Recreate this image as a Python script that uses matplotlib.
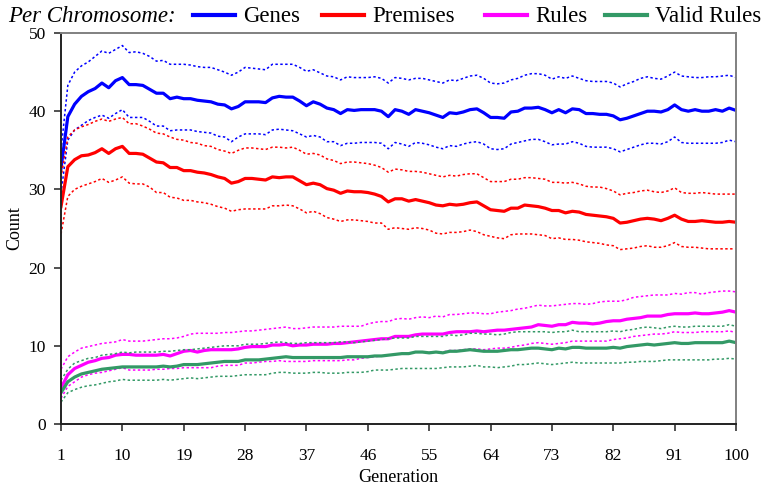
import numpy as np
import matplotlib.pyplot as plt
from matplotlib.lines import Line2D

plt.rcParams['font.family'] = ['Liberation Serif', 'DejaVu Serif']

generation = np.arange(1, 101)

# mean count per chromosome, with the +/- one std. dev. envelopes
genes_mean = [32.7, 39.3, 40.9, 41.9, 42.5, 42.9, 43.6, 43.0, 43.9, 44.3,
              43.4, 43.4, 43.3, 42.8, 42.3, 42.3, 41.6, 41.8, 41.6, 41.6,
              41.4, 41.3, 41.2, 40.9, 40.8, 40.3, 40.6, 41.2, 41.2, 41.2,
              41.1, 41.7, 41.9, 41.8, 41.8, 41.3, 40.7, 41.2, 40.9, 40.4,
              40.2, 39.7, 40.2, 40.1, 40.2, 40.2, 40.2, 40.0, 39.3, 40.2,
              40.0, 39.6, 40.2, 40.0, 39.8, 39.5, 39.2, 39.8, 39.7, 39.9,
              40.2, 40.3, 39.8, 39.2, 39.2, 39.1, 39.9, 40.0, 40.4, 40.4,
              40.5, 40.2, 39.8, 40.2, 39.8, 40.3, 40.2, 39.7, 39.7, 39.6,
              39.6, 39.4, 38.9, 39.1, 39.4, 39.7, 40.0, 40.0, 39.9, 40.2,
              40.8, 40.2, 40.0, 40.2, 40.0, 40.0, 40.2, 40.0, 40.4, 40.1]
genes_hi = [35.0, 43.3, 45.0, 45.8, 46.3, 47.0, 47.7, 47.4, 47.9, 48.4,
            47.5, 47.6, 47.4, 47.0, 46.4, 46.5, 46.0, 46.0, 46.0, 45.9,
            45.7, 45.6, 45.6, 45.3, 45.0, 44.6, 45.0, 45.6, 45.5, 45.4,
            45.3, 46.0, 46.0, 46.0, 46.0, 45.6, 45.1, 45.3, 44.9, 44.5,
            44.4, 44.0, 44.4, 44.3, 44.3, 44.3, 44.4, 44.2, 43.6, 44.3,
            44.2, 44.0, 44.2, 44.2, 44.0, 43.8, 43.6, 44.0, 43.9, 44.2,
            44.5, 44.6, 44.2, 43.6, 43.5, 43.6, 44.0, 44.2, 44.6, 44.8,
            44.8, 44.6, 44.1, 44.4, 44.2, 44.5, 44.2, 43.9, 43.8, 43.8,
            43.8, 43.6, 43.1, 43.5, 43.8, 44.2, 44.4, 44.2, 44.1, 44.5,
            45.0, 44.5, 44.4, 44.3, 44.3, 44.4, 44.4, 44.5, 44.6, 44.3]
genes_lo = [29.5, 36.3, 37.6, 38.2, 38.8, 39.2, 39.5, 39.1, 39.7, 40.2,
            39.2, 39.2, 39.2, 38.7, 38.1, 38.1, 37.5, 37.6, 37.6, 37.6,
            37.4, 37.3, 37.2, 36.8, 36.7, 36.1, 36.7, 37.1, 37.1, 37.1,
            37.0, 37.6, 37.7, 37.6, 37.5, 37.1, 36.7, 36.9, 36.7, 36.1,
            36.1, 35.6, 35.9, 35.9, 36.0, 36.0, 36.0, 35.9, 35.2, 36.0,
            35.8, 35.5, 36.0, 35.9, 35.7, 35.4, 35.2, 35.6, 35.5, 35.8,
            36.0, 36.1, 35.8, 35.2, 35.1, 35.2, 35.8, 36.0, 36.2, 36.4,
            36.4, 36.1, 35.7, 35.8, 35.8, 36.1, 35.9, 35.5, 35.4, 35.4,
            35.4, 35.2, 34.8, 35.1, 35.4, 35.7, 35.9, 35.9, 35.8, 36.1,
            36.7, 36.0, 35.9, 35.9, 35.9, 35.9, 35.9, 36.0, 36.3, 36.1]

premises_mean = [27.8, 32.9, 33.8, 34.3, 34.4, 34.7, 35.2, 34.6, 35.2, 35.5,
                 34.6, 34.6, 34.5, 34.0, 33.5, 33.4, 32.8, 32.8, 32.4, 32.4,
                 32.2, 32.1, 31.9, 31.6, 31.4, 30.8, 31.0, 31.4, 31.4, 31.3,
                 31.2, 31.6, 31.5, 31.6, 31.6, 31.1, 30.6, 30.8, 30.6, 30.1,
                 29.9, 29.5, 29.8, 29.7, 29.7, 29.6, 29.4, 29.1, 28.4, 28.8,
                 28.8, 28.5, 28.7, 28.5, 28.3, 28.0, 27.9, 28.1, 28.0, 28.1,
                 28.3, 28.4, 27.9, 27.4, 27.3, 27.2, 27.6, 27.6, 28.0, 27.9,
                 27.8, 27.6, 27.3, 27.3, 27.0, 27.2, 27.1, 26.8, 26.7, 26.6,
                 26.5, 26.3, 25.7, 25.8, 26.0, 26.2, 26.3, 26.2, 26.0, 26.3,
                 26.7, 26.2, 25.9, 25.9, 26.0, 25.9, 25.8, 25.8, 25.9, 25.8]
premises_hi = [31.5, 36.7, 37.6, 38.0, 38.3, 38.7, 39.0, 38.7, 39.0, 39.2,
               38.4, 38.4, 38.1, 37.7, 37.2, 37.1, 36.7, 36.4, 36.3, 36.0,
               35.9, 35.6, 35.5, 35.1, 34.9, 34.6, 35.0, 35.3, 35.3, 35.2,
               35.1, 35.4, 35.4, 35.3, 35.4, 35.0, 34.5, 34.6, 34.4, 33.9,
               33.7, 33.3, 33.5, 33.5, 33.4, 33.3, 33.1, 32.8, 32.2, 32.6,
               32.5, 32.3, 32.3, 32.2, 32.0, 31.8, 31.6, 31.8, 31.7, 31.9,
               32.0, 32.0, 31.5, 31.0, 31.0, 31.0, 31.3, 31.3, 31.5, 31.5,
               31.4, 31.3, 30.9, 30.9, 30.8, 30.9, 30.7, 30.4, 30.3, 30.3,
               30.1, 29.8, 29.3, 29.5, 29.6, 29.8, 29.9, 29.7, 29.6, 29.8,
               30.2, 29.6, 29.5, 29.5, 29.6, 29.5, 29.4, 29.4, 29.4, 29.4]
premises_lo = [24.3, 29.1, 30.0, 30.4, 30.7, 31.0, 31.4, 30.9, 31.2, 31.6,
               30.8, 30.7, 30.7, 30.3, 29.6, 29.6, 29.0, 28.9, 28.6, 28.6,
               28.4, 28.3, 28.1, 27.8, 27.6, 27.2, 27.4, 27.5, 27.5, 27.5,
               27.5, 27.9, 27.9, 28.0, 27.9, 27.5, 27.0, 27.2, 26.9, 26.4,
               26.2, 25.9, 26.1, 26.1, 26.0, 25.9, 25.7, 25.7, 24.9, 25.1,
               25.0, 24.9, 25.1, 25.0, 24.8, 24.4, 24.3, 24.5, 24.5, 24.6,
               24.8, 24.6, 24.2, 24.0, 23.8, 23.7, 24.2, 24.3, 24.3, 24.3,
               24.2, 24.1, 23.7, 23.8, 23.6, 23.6, 23.5, 23.3, 23.2, 23.1,
               22.9, 22.8, 22.3, 22.4, 22.5, 22.7, 22.8, 22.6, 22.6, 22.8,
               23.2, 22.7, 22.6, 22.6, 22.5, 22.4, 22.4, 22.4, 22.4, 22.4]

rules_mean = [4.6, 6.3, 7.1, 7.5, 7.9, 8.1, 8.4, 8.5, 8.8, 8.9,
              8.9, 8.8, 8.8, 8.8, 8.8, 8.9, 8.7, 9.0, 9.3, 9.4,
              9.2, 9.4, 9.5, 9.5, 9.5, 9.5, 9.6, 9.8, 9.9, 9.9,
              9.9, 10.1, 10.1, 10.2, 10.0, 10.1, 10.1, 10.2, 10.2, 10.2,
              10.3, 10.3, 10.4, 10.5, 10.6, 10.7, 10.8, 10.9, 10.9, 11.2,
              11.2, 11.2, 11.4, 11.5, 11.5, 11.5, 11.5, 11.7, 11.8, 11.8,
              11.8, 11.9, 11.8, 11.9, 12.0, 12.0, 12.1, 12.2, 12.3, 12.4,
              12.7, 12.6, 12.5, 12.7, 12.7, 13.0, 12.9, 12.9, 12.8, 12.9,
              13.1, 13.2, 13.2, 13.4, 13.5, 13.6, 13.8, 13.8, 13.8, 14.0,
              14.1, 14.1, 14.1, 14.2, 14.1, 14.1, 14.2, 14.3, 14.5, 14.3]
rules_hi = [7.0, 8.6, 9.2, 9.7, 9.9, 10.1, 10.3, 10.4, 10.5, 10.8,
            10.6, 10.6, 10.6, 10.7, 10.8, 10.9, 10.9, 11.0, 11.2, 11.5,
            11.6, 11.6, 11.6, 11.6, 11.7, 11.7, 11.8, 11.9, 11.9, 12.0,
            12.1, 12.2, 12.3, 12.4, 12.2, 12.2, 12.3, 12.4, 12.4, 12.4,
            12.4, 12.5, 12.5, 12.5, 12.5, 12.8, 13.0, 13.1, 13.1, 13.4,
            13.5, 13.4, 13.6, 13.7, 13.6, 13.8, 13.7, 14.0, 14.0, 14.1,
            14.2, 14.2, 14.1, 14.1, 14.3, 14.4, 14.5, 14.7, 14.8, 15.0,
            15.2, 15.1, 15.1, 15.2, 15.3, 15.4, 15.4, 15.3, 15.4, 15.6,
            15.7, 15.7, 15.7, 15.9, 16.2, 16.3, 16.4, 16.5, 16.5, 16.5,
            16.7, 16.6, 16.8, 16.8, 16.6, 16.8, 16.9, 17.0, 17.0, 16.9]
rules_lo = [3.3, 4.8, 5.4, 6.0, 6.3, 6.5, 6.6, 6.8, 7.0, 7.2,
            6.9, 6.9, 6.9, 6.9, 7.0, 7.0, 7.1, 7.1, 7.2, 7.2,
            7.2, 7.2, 7.2, 7.4, 7.5, 7.5, 7.5, 7.8, 7.8, 7.9,
            8.0, 8.0, 8.1, 8.0, 8.0, 8.0, 8.0, 8.1, 8.1, 8.1,
            8.1, 8.1, 8.2, 8.2, 8.4, 8.5, 8.6, 8.7, 8.8, 8.9,
            9.0, 9.0, 9.2, 9.2, 9.2, 9.2, 9.2, 9.4, 9.4, 9.5,
            9.6, 9.6, 9.5, 9.6, 9.7, 9.7, 9.8, 10.0, 10.1, 10.3,
            10.4, 10.3, 10.2, 10.3, 10.4, 10.6, 10.6, 10.6, 10.6, 10.6,
            10.6, 10.8, 10.9, 11.0, 11.2, 11.3, 11.4, 11.5, 11.5, 11.6,
            11.8, 11.7, 11.7, 11.7, 11.8, 11.8, 11.8, 11.8, 11.9, 11.7]

valid_mean = [4.0, 5.4, 6.0, 6.4, 6.6, 6.8, 7.0, 7.1, 7.2, 7.3,
              7.3, 7.3, 7.3, 7.3, 7.3, 7.4, 7.3, 7.4, 7.6, 7.6,
              7.6, 7.7, 7.8, 7.9, 8.0, 8.0, 8.0, 8.2, 8.2, 8.2,
              8.3, 8.4, 8.5, 8.6, 8.5, 8.5, 8.5, 8.5, 8.5, 8.5,
              8.5, 8.5, 8.6, 8.6, 8.6, 8.6, 8.7, 8.7, 8.8, 8.9,
              9.0, 9.0, 9.2, 9.2, 9.1, 9.2, 9.1, 9.3, 9.3, 9.4,
              9.5, 9.4, 9.3, 9.3, 9.3, 9.4, 9.5, 9.5, 9.6, 9.7,
              9.7, 9.6, 9.5, 9.7, 9.6, 9.8, 9.8, 9.7, 9.7, 9.7,
              9.7, 9.8, 9.7, 9.9, 10.0, 10.1, 10.2, 10.1, 10.2, 10.3,
              10.4, 10.3, 10.3, 10.4, 10.4, 10.4, 10.4, 10.4, 10.6, 10.4]
valid_hi = [5.6, 7.0, 7.8, 8.1, 8.4, 8.5, 8.8, 8.9, 9.0, 9.2,
            9.1, 9.2, 9.2, 9.2, 9.2, 9.3, 9.3, 9.4, 9.5, 9.5,
            9.6, 9.7, 9.8, 9.9, 10.0, 10.0, 10.0, 10.2, 10.2, 10.2,
            10.3, 10.4, 10.5, 10.4, 10.3, 10.3, 10.4, 10.4, 10.4, 10.4,
            10.4, 10.5, 10.5, 10.4, 10.5, 10.6, 10.7, 10.8, 10.9, 11.0,
            11.0, 11.0, 11.2, 11.2, 11.2, 11.2, 11.2, 11.4, 11.3, 11.4,
            11.6, 11.6, 11.5, 11.5, 11.4, 11.5, 11.7, 11.8, 11.8, 11.8,
            11.8, 11.8, 11.7, 11.8, 11.8, 12.0, 11.8, 11.8, 11.8, 11.8,
            11.8, 11.9, 11.8, 12.0, 12.1, 12.3, 12.4, 12.3, 12.2, 12.4,
            12.5, 12.4, 12.4, 12.5, 12.5, 12.5, 12.5, 12.5, 12.7, 12.5]
valid_lo = [2.8, 4.0, 4.4, 4.7, 4.9, 5.0, 5.2, 5.4, 5.5, 5.7,
            5.6, 5.6, 5.6, 5.6, 5.6, 5.7, 5.6, 5.7, 5.8, 5.9,
            5.8, 5.9, 6.0, 6.1, 6.1, 6.1, 6.2, 6.3, 6.3, 6.3,
            6.3, 6.5, 6.6, 6.6, 6.5, 6.5, 6.5, 6.6, 6.6, 6.5,
            6.5, 6.5, 6.6, 6.6, 6.6, 6.7, 6.9, 6.9, 6.9, 7.0,
            7.1, 7.1, 7.1, 7.1, 7.1, 7.1, 7.2, 7.3, 7.3, 7.3,
            7.4, 7.5, 7.3, 7.3, 7.2, 7.3, 7.4, 7.6, 7.6, 7.7,
            7.8, 7.7, 7.6, 7.7, 7.8, 7.9, 7.8, 7.8, 7.8, 7.8,
            7.8, 7.8, 7.8, 7.9, 7.9, 8.0, 8.0, 8.0, 8.1, 8.2,
            8.2, 8.2, 8.2, 8.2, 8.2, 8.2, 8.3, 8.3, 8.4, 8.3]

labels = ['Genes', 'Premises', 'Rules', 'Valid Rules']
colors = ['#0000FF', '#FF0000', '#FF00FF', '#339966']
means = [genes_mean, premises_mean, rules_mean, valid_mean]
highs = [genes_hi, premises_hi, rules_hi, valid_hi]
lows = [genes_lo, premises_lo, rules_lo, valid_lo]

W, H = 765, 490
fig = plt.figure(figsize=(W / 100, H / 100), dpi=100)
ax = fig.add_axes([61 / W, 1 - 424 / H, 675 / W, 391 / H])

dot = (0, (1.6, 1.6))
for c, m, hi, lo in zip(colors, means, highs, lows):
    ax.plot(generation, hi, color=c, lw=1.1, ls=dot)
    ax.plot(generation, lo, color=c, lw=1.1, ls=dot)
    ax.plot(generation, m, color=c, lw=2.3, solid_joinstyle='round')

ax.set_xlim(1, 100)
ax.set_ylim(0, 50)
ax.set_xticks(np.arange(1, 101, 9))
ax.set_yticks(np.arange(0, 51, 10))
ax.tick_params(direction='out', length=5, width=1.2, color='#333333',
               labelsize=12.5, pad=6)
ax.tick_params(axis='x', pad=12)
for side in ['left', 'bottom']:
    ax.spines[side].set_color('#222222')
    ax.spines[side].set_linewidth(1.4)
for side in ['top', 'right']:
    ax.spines[side].set_color('#808080')
    ax.spines[side].set_linewidth(1.4)

ax.set_xlabel('Generation', fontsize=13)
ax.xaxis.set_label_coords(0.5, -0.115)
ax.set_ylabel('Count', fontsize=13)
ax.yaxis.set_label_coords(-0.056, 0.5)

# legend row across the top
fig.text(8 / W, 1 - 17 / H, 'Per Chromosome:', style='italic',
         fontsize=16.5, va='center', ha='left')
handle_x = [193, 322, 485, 605]
text_x = [243, 372, 535, 655]
for x0, tx, lab, c in zip(handle_x, text_x, labels, colors):
    fig.add_artist(Line2D([x0 / W, (x0 + 42) / W], [1 - 15 / H, 1 - 15 / H],
                          color=c, lw=3, transform=fig.transFigure))
    fig.text(tx / W, 1 - 17 / H, lab, fontsize=16.5,
             va='center', ha='left')

fig.savefig('out.png', dpi=100)
